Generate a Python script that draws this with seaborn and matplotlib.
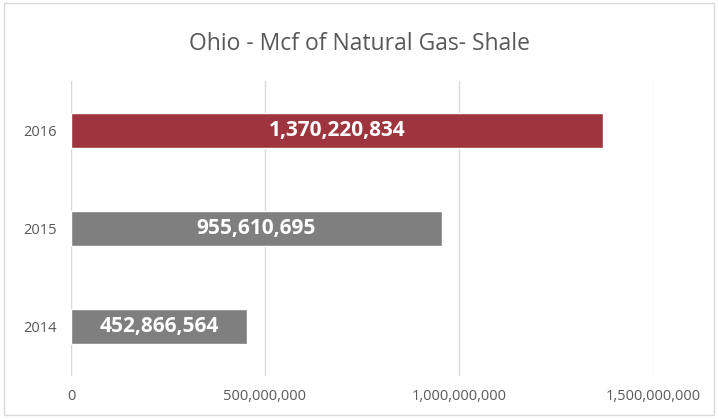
import pandas as pd
import matplotlib.pyplot as plt
import seaborn as sns
from matplotlib.patches import Rectangle
from matplotlib.ticker import FuncFormatter

# data
years = ['2016', '2015', '2014']
mcf = [1370220834, 955610695, 452866564]
bar_colors = ['#9E343E', '#7F7F7F', '#7F7F7F']

df = pd.DataFrame({'year': years, 'mcf': mcf})

sns.set_style('white')
plt.rcParams['font.family'] = ['Open Sans', 'DejaVu Sans']

fig = plt.figure(figsize=(7.19, 4.19), dpi=100)
ax = fig.add_axes([71 / 719, 1 - 376 / 419, (653 - 71) / 719, (376 - 81) / 419])

sns.barplot(data=df, x='mcf', y='year', hue='year', palette=bar_colors,
            legend=False, width=0.355, saturation=1, ax=ax, zorder=3)

ax.set_xlim(0, 1500000000)
ax.set_xticks([0, 500000000, 1000000000, 1500000000])
ax.xaxis.set_major_formatter(FuncFormatter(lambda v, p: f'{int(v):,}'))
ax.grid(axis='x', color='#D9D9D9', linewidth=1, zorder=0)
ax.grid(axis='y', visible=False)
for s in ax.spines.values():
    s.set_visible(False)
ax.set_xlabel('')
ax.set_ylabel('')
ax.tick_params(axis='both', length=0, labelsize=10.5, colors='#595959')
ax.tick_params(axis='x', pad=9)
ax.tick_params(axis='y', pad=10.5)

for i, v in enumerate(mcf):
    ax.text(v / 2, i, f'{v:,}', ha='center', va='center', color='white',
            fontsize=15, fontweight='bold', zorder=4)

fig.text(0.5, 1 - 44 / 419, 'Ohio - Mcf of Natural Gas- Shale', ha='center',
         va='center', fontsize=16.5, color='#595959')

fig.patches.append(Rectangle((4 / 719, 4 / 419), 710 / 719, 412 / 419,
                             transform=fig.transFigure, fill=False,
                             edgecolor='#D9D9D9', linewidth=1))

plt.savefig('out.png', dpi=100)
